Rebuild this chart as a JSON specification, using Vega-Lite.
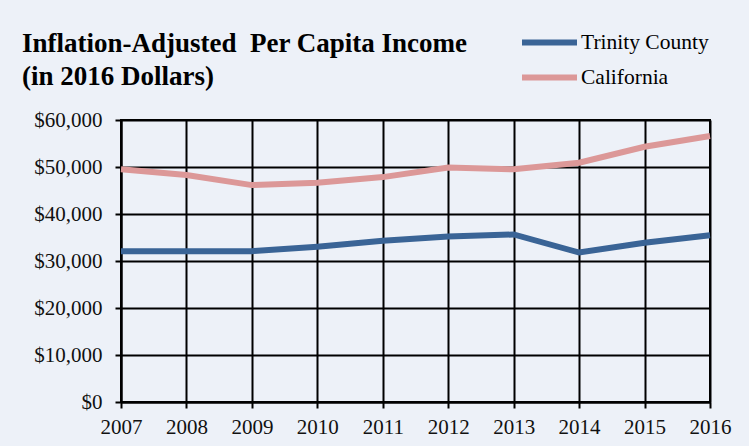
{
  "$schema": "https://vega.github.io/schema/vega-lite/v6.json",
  "autosize": {"type": "none"},
  "width": 589,
  "height": 282,
  "padding": {"left": 121, "top": 120, "right": 39, "bottom": 44},
  "background": "#edf1f8",
  "title": {
    "text": ["Inflation-Adjusted \u00a0Per Capita Income", "(in 2016 Dollars)"],
    "anchor": "start",
    "frame": "group",
    "dx": -99,
    "dy": 84,
    "offset": 25,
    "font": "Liberation Serif",
    "fontSize": 27,
    "fontWeight": "bold",
    "color": "#000000",
    "lineHeight": 33
  },
  "data": {
    "values": [
      {"year": "2007", "series": "Trinity County", "income": 32100},
      {"year": "2008", "series": "Trinity County", "income": 32100},
      {"year": "2009", "series": "Trinity County", "income": 32100},
      {"year": "2010", "series": "Trinity County", "income": 33050},
      {"year": "2011", "series": "Trinity County", "income": 34300},
      {"year": "2012", "series": "Trinity County", "income": 35200},
      {"year": "2013", "series": "Trinity County", "income": 35650},
      {"year": "2014", "series": "Trinity County", "income": 31800},
      {"year": "2015", "series": "Trinity County", "income": 33900},
      {"year": "2016", "series": "Trinity County", "income": 35500},
      {"year": "2007", "series": "California", "income": 49500},
      {"year": "2008", "series": "California", "income": 48300},
      {"year": "2009", "series": "California", "income": 46150},
      {"year": "2010", "series": "California", "income": 46650},
      {"year": "2011", "series": "California", "income": 47850},
      {"year": "2012", "series": "California", "income": 49900},
      {"year": "2013", "series": "California", "income": 49500},
      {"year": "2014", "series": "California", "income": 50900},
      {"year": "2015", "series": "California", "income": 54300},
      {"year": "2016", "series": "California", "income": 56600}
    ]
  },
  "mark": {"type": "line", "strokeWidth": 6, "strokeJoin": "miter"},
  "encoding": {
    "x": {
      "field": "year",
      "type": "ordinal",
      "scale": {"type": "point", "padding": 0},
      "axis": {
        "title": null,
        "labelAngle": 0,
        "grid": true,
        "gridColor": "#000000",
        "gridWidth": 2,
        "gridOpacity": 1,
        "domainColor": "#000000",
        "domainWidth": 2,
        "tickColor": "#000000",
        "tickWidth": 2,
        "tickSize": 6,
        "labelFont": "Liberation Serif",
        "labelFontSize": 21,
        "labelColor": "#111111",
        "labelPadding": 8
      }
    },
    "y": {
      "field": "income",
      "type": "quantitative",
      "scale": {"domain": [0, 60000], "nice": false},
      "axis": {
        "title": null,
        "values": [0, 10000, 20000, 30000, 40000, 50000, 60000],
        "format": "$,.0f",
        "grid": true,
        "gridColor": "#000000",
        "gridWidth": 2,
        "gridOpacity": 1,
        "domainColor": "#000000",
        "domainWidth": 2,
        "tickColor": "#000000",
        "tickWidth": 2,
        "tickSize": 6,
        "labelFont": "Liberation Serif",
        "labelFontSize": 21,
        "labelColor": "#111111",
        "labelPadding": 13
      }
    },
    "color": {
      "field": "series",
      "type": "nominal",
      "scale": {"domain": ["Trinity County", "California"], "range": ["#3a6496", "#dc9898"]},
      "legend": {
        "title": null,
        "orient": "none",
        "legendX": 398,
        "legendY": -88,
        "symbolType": "stroke",
        "symbolSize": 3025,
        "symbolStrokeWidth": 6,
        "clipHeight": 21,
        "labelFont": "Liberation Serif",
        "labelFontSize": 21.5,
        "labelColor": "#000000",
        "labelOffset": 1,
        "rowPadding": 13
      }
    }
  },
  "config": {
    "view": {"stroke": "#000000", "strokeWidth": 2}
  }
}
